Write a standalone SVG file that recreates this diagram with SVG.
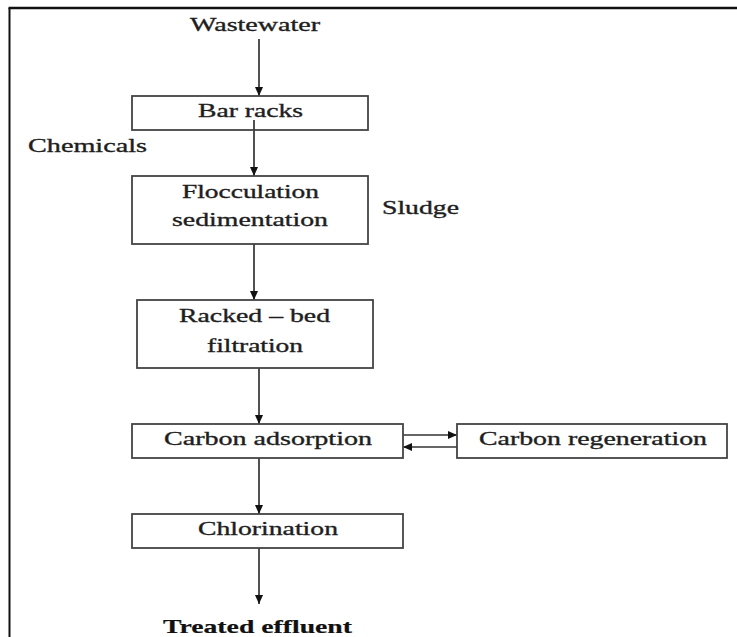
<svg xmlns="http://www.w3.org/2000/svg" width="737" height="637" viewBox="0 0 737 637">
<defs>
<marker id="ah" markerUnits="userSpaceOnUse" markerWidth="10" markerHeight="8" refX="9" refY="4" orient="auto">
<path d="M0,0 L9,4 L0,8 z" fill="#111"/>
</marker>
<style>
.box{fill:#fff;stroke:#444;stroke-width:1.8}
.t{font-family:"Liberation Serif","Times New Roman",serif;font-size:19px;fill:#1e1e1e;stroke:#1e1e1e;stroke-width:0.35}
.b{font-weight:bold;fill:#111;stroke:#111;stroke-width:0.2}
.c{stroke:#333;stroke-width:1.7;fill:none;marker-end:url(#ah)}
</style>
</defs>
<rect width="737" height="637" fill="#fff"/>
<g id="frame">
<line x1="9.5" y1="8" x2="9.5" y2="637" stroke="#111" stroke-width="2"/>
<line x1="8.5" y1="8" x2="737" y2="8" stroke="#111" stroke-width="2.5"/>
</g>
<g id="connectors">
<line class="c" x1="259" y1="39" x2="259" y2="96"/>
<line class="c" x1="254" y1="120" x2="254" y2="176"/>
<line class="c" x1="254" y1="244" x2="254" y2="300"/>
<line class="c" x1="259" y1="368" x2="259" y2="424"/>
<line class="c" x1="259" y1="458" x2="259" y2="514"/>
<line class="c" x1="259" y1="548" x2="259" y2="604"/>
<line class="c" x1="403" y1="435" x2="457" y2="435"/>
<line class="c" x1="457" y1="447" x2="403" y2="447"/>
</g>
<g id="wastewater"><text class="t" x="190" y="31" textLength="130" lengthAdjust="spacingAndGlyphs">Wastewater</text></g>
<g id="bar-racks">
<rect class="box" x="132" y="96" width="236" height="34"/>
<text class="t" x="198" y="117" textLength="105" lengthAdjust="spacingAndGlyphs">Bar racks</text>
</g>
<line x1="254" y1="120" x2="254" y2="130" stroke="#333" stroke-width="1.7"/>
<g id="chemicals"><text class="t" x="28" y="152" textLength="119" lengthAdjust="spacingAndGlyphs">Chemicals</text></g>
<g id="flocculation">
<rect class="box" x="132" y="176" width="236" height="68"/>
<text class="t" x="182" y="198" textLength="137" lengthAdjust="spacingAndGlyphs">Flocculation</text>
<text class="t" x="172" y="226" textLength="156" lengthAdjust="spacingAndGlyphs">sedimentation</text>
</g>
<g id="sludge"><text class="t" x="382" y="214" textLength="77" lengthAdjust="spacingAndGlyphs">Sludge</text></g>
<g id="racked-bed">
<rect class="box" x="137" y="300" width="236" height="68"/>
<text class="t" x="179" y="322" textLength="151" lengthAdjust="spacingAndGlyphs">Racked – bed</text>
<text class="t" x="207" y="352" textLength="96" lengthAdjust="spacingAndGlyphs">filtration</text>
</g>
<g id="carbon-adsorption">
<rect class="box" x="132" y="424" width="271" height="34"/>
<text class="t" x="164" y="445" textLength="208" lengthAdjust="spacingAndGlyphs">Carbon adsorption</text>
</g>
<g id="carbon-regeneration">
<rect class="box" x="457" y="424" width="270" height="34"/>
<text class="t" x="479" y="445" textLength="228" lengthAdjust="spacingAndGlyphs">Carbon regeneration</text>
</g>
<g id="chlorination">
<rect class="box" x="132" y="514" width="271" height="34"/>
<text class="t" x="198" y="535" textLength="140" lengthAdjust="spacingAndGlyphs">Chlorination</text>
</g>
<g id="treated-effluent"><text class="t b" x="163" y="633" textLength="189" lengthAdjust="spacingAndGlyphs">Treated effluent</text></g>
</svg>
